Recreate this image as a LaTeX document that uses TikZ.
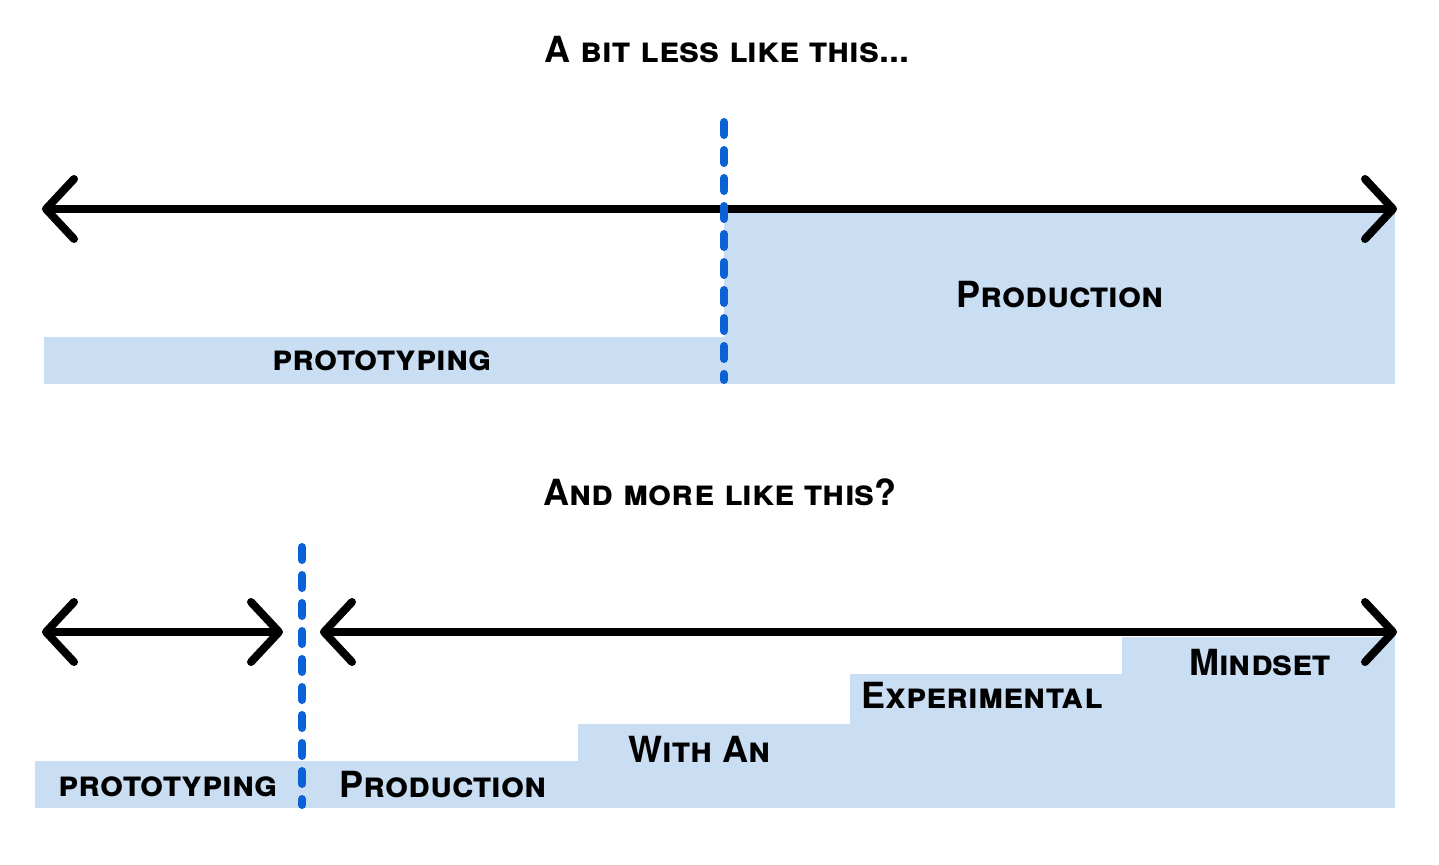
\documentclass[tikz,border=0pt]{standalone}
\usepackage{fontspec}
\setmainfont{TeX Gyre Heros}
\usetikzlibrary{arrows.meta}
\definecolor{bandblue}{HTML}{C9DDF3}
\definecolor{splitblue}{HTML}{0B62D6}

\begin{document}
\begin{tikzpicture}[x=1pt, y=-1pt,
		band/.style={fill=bandblue},
		chev/.tip={Straight Barb[length=28pt,width=60pt,round]},
		axis/.style={line width=8pt, line cap=round, chev-chev},
		split/.style={draw=splitblue, line width=8pt, line cap=round, dash pattern=on 13pt off 15pt},
		label/.style={font=\fontsize{36}{38}\selectfont\bfseries\scshape, inner sep=0pt}]
		\useasboundingbox (0,0) rectangle (1439,864);
		% top: a bit less like this
		\node[label] (title1) at (727,50) {A bit less like this...};
		\fill[band] (44,337) rectangle (724,384);
		\fill[band] (724,213) rectangle (1395,384);
		\coordinate (a1) at (42,209);
		\coordinate (b1) at (1397,209);
		\draw[axis] (a1) -- (b1);
		\coordinate (s1) at (724,122);
		\coordinate (t1) at (724,380);
		\draw[split] (s1) -- (t1);
		\node[label] (proto1) at (382,361) {prototyping};
		\node[label] (prod1) at (1060,295) {Production};
		% bottom: and more like this
		\node[label] (title2) at (720,492) {And more like this?};
		\fill[band] (35,761) rectangle (578,808);
		\fill[band] (578,724) rectangle (850,808);
		\fill[band] (850,674) rectangle (1122,808);
		\fill[band] (1122,637) rectangle (1395,808);
		\coordinate (a2) at (42,632);
		\coordinate (b2) at (283,632);
		\coordinate (c2) at (320,632);
		\coordinate (d2) at (1397,632);
		\draw[axis] (a2) -- (b2);
		\draw[axis] (c2) -- (d2);
		\coordinate (s2) at (302,547);
		\coordinate (t2) at (302,805);
		\draw[split] (s2) -- (t2);
		\node[label] (proto2) at (168,787) {prototyping};
		\node[label] (prod2) at (443,785) {Production};
		\node[label] (with) at (700,749) {With An};
		\node[label] (exper) at (982,695) {Experimental};
		\node[label] (mind) at (1260,663) {Mindset};
	\end{tikzpicture}
\end{document}
